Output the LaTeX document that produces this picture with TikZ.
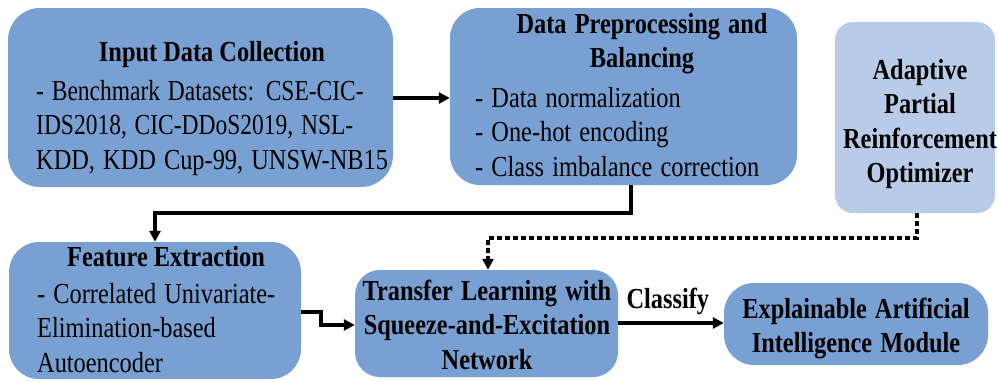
\documentclass[tikz,border=0pt]{standalone}
\usepackage{graphicx}
\usepackage{fontspec}
\setmainfont{LiberationSerif}[Extension=.ttf, UprightFont=*-Regular, BoldFont=*-Bold, ItalicFont=*-Italic, BoldItalicFont=*-BoldItalic]
\usetikzlibrary{arrows.meta}
\definecolor{boxblue}{RGB}{120,160,210}
\definecolor{lightblue}{RGB}{184,204,232}
\newcommand{\sq}[1]{\scalebox{0.84}[1]{#1}}
\newcommand{\sqn}[1]{\scalebox{0.81}[1]{#1}}
\begin{document}
\begin{tikzpicture}[x=1pt,y=-1pt,
  box/.style={fill=boxblue, draw=none, inner sep=0pt},
  lbox/.style={fill=lightblue, draw=none, inner sep=0pt},
  txt/.style={inner sep=0pt, anchor=base, font=\fontsize{29}{34.5}\selectfont},
  ttl/.style={txt, font=\fontsize{29}{34.5}\selectfont\bfseries},
  conn/.style={line width=3.2pt, -{Triangle[length=11pt,width=11pt]}},
  dconn/.style={line width=3.2pt, dash pattern=on 5pt off 3pt, -{Triangle[length=11pt,width=11pt]}}
]
\useasboundingbox (0,0) rectangle (998,381);
% boxes
\node[box, rounded corners=32pt, minimum width=385pt, minimum height=179pt] (b1) at (200.5,97.5) {};
\node[box, rounded corners=30pt, minimum width=347pt, minimum height=177pt] (b2) at (623.5,96.5) {};
\node[lbox, rounded corners=18pt, minimum width=160pt, minimum height=191pt] (b3) at (915,117.5) {};
\node[box, rounded corners=30pt, minimum width=292pt, minimum height=137pt] (b4) at (155,310.5) {};
\node[box, rounded corners=25pt, minimum width=263pt, minimum height=107pt] (b5) at (486.5,323.5) {};
\node[box, rounded corners=30pt, minimum width=264pt, minimum height=82pt] (b6) at (856,324) {};
% texts
\node[ttl] (t1) at (212,61) {\sq{Input Data Collection}};
\node[txt, anchor=base west, text width=380pt, align=left] (x1) at (36,100)
  {\sqn{- Benchmark Datasets: CSE-CIC-}\\\sqn{IDS2018, CIC-DDoS2019, NSL-}\\\sq{KDD, KDD Cup-99, UNSW-NB15}};
\node[ttl, text width=340pt, align=center] (t2) at (642,33) {\sq{Data Preprocessing and}\\\sq{Balancing}};
\node[txt, anchor=base west, text width=330pt, align=left] (x2) at (475,107)
  {\sq{- Data normalization}\\\sq{- One-hot encoding}\\\sq{- Class imbalance correction}};
\node[ttl, text width=170pt, align=center] (t3) at (920,79) {\sq{Adaptive}\\\sq{Partial}\\\sq{Reinforcement}\\\sq{Optimizer}};
\node[ttl] (t4) at (166,266) {\sq{Feature Extraction}};
\node[txt, anchor=base west, text width=280pt, align=left] (x4) at (37,303)
  {\sq{- Correlated Univariate-}\\\sq{Elimination-based}\\\sq{Autoencoder}};
\node[ttl, text width=280pt, align=center] (t5) at (487,300) {\sq{Transfer Learning with}\\\sq{Squeeze-and-Excitation}\\\sq{Network}};
\node[ttl, text width=280pt, align=center] (t6) at (856,318) {\sq{Explainable Artificial}\\\sq{Intelligence Module}};
% connectors
\coordinate (c1) at (631,213);
\coordinate (c2) at (155,213);
\draw[conn] (b1.east |- 0,98) -- (b2.west |- 0,98);
\draw[conn] (b2.south -| c1) -- (c1) -- (c2) -- (b4.north -| c2);
\coordinate (c3) at (321,312);
\coordinate (c4) at (321,325);
\draw[conn] (b4.east |- c3) -- (c3) -- (c4) -- (b5.west |- c4);
\draw[conn] (b5.east |- 0,323) -- node[ttl, anchor=base, pos=0.47, yshift=15pt] (cl) {\sq{Classify}} (b6.west |- 0,323);
\coordinate (d1) at (917,238);
\coordinate (d2) at (488,238);
\draw[dconn] (b3.south -| d1) -- (d1) -- (d2) -- (b5.north -| d2);
\end{tikzpicture}
\end{document}
